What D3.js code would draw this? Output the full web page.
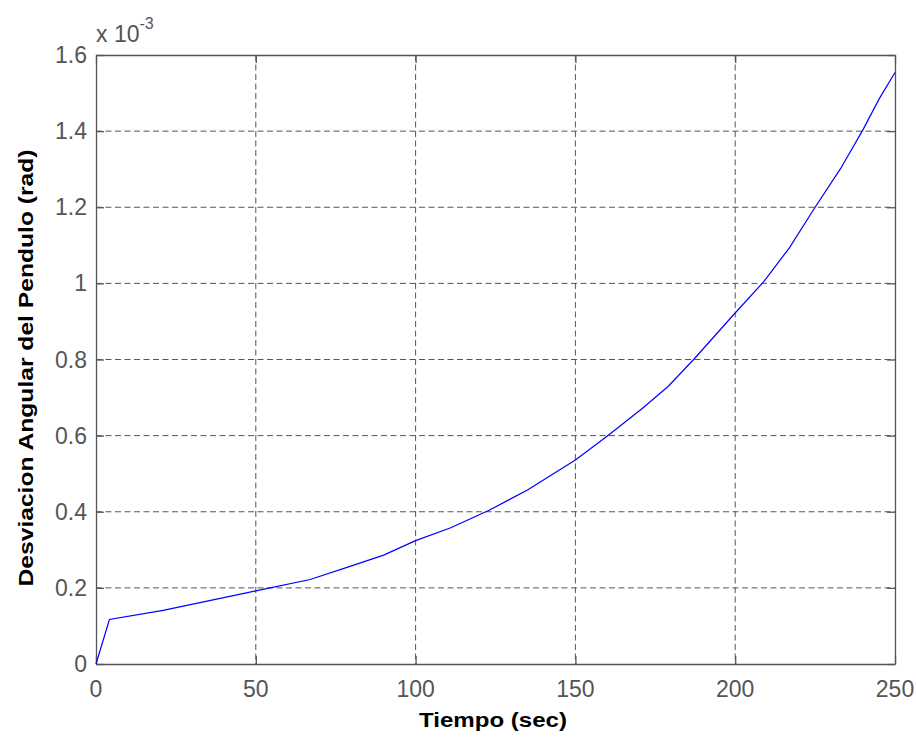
<!DOCTYPE html>
<html>
<head>
<meta charset="utf-8">
<script src="https://cdn.jsdelivr.net/npm/d3@7"></script>
<style>
	body { margin: 0; background: #fff; }
	svg { display: block; }
	.tick-label { font-family: "Liberation Sans", Arial, sans-serif; fill: #555; }
	.axis-title { font-family: "Liberation Sans", Arial, sans-serif; font-weight: bold; fill: #000; }
</style>
</head>
<body>
<svg id="chart" width="916" height="737"></svg>
<script>
// tiempo (sec) y desviacion (x 1e-3 rad)
var tiempo = [0, 4.2, 21, 50, 67, 79, 90, 100, 111, 123, 135, 150, 160, 171, 179, 187, 199, 209, 217, 225, 233, 240, 245, 250];
var desviacion = [0, 0.117, 0.141, 0.192, 0.222, 0.255, 0.286, 0.324, 0.358, 0.404, 0.457, 0.536, 0.599, 0.672, 0.729, 0.800, 0.913, 1.005, 1.094, 1.200, 1.302, 1.404, 1.484, 1.554];
var xTicks = [0, 50, 100, 150, 200, 250];
var yTicks = [0, 0.2, 0.4, 0.6, 0.8, 1, 1.2, 1.4, 1.6];

function drawChart() {
	var svg = d3.select('#chart');
	var left = 96, right = 895, top = 55, bottom = 664;
	var axisColor = '#555';

	var xScale = d3.scaleLinear().domain([0, 250]).range([left, right]);
	var yScale = d3.scaleLinear().domain([0, 1.6]).range([bottom, top]);

	// rejilla punteada
	var grid = svg.append('g').attr('id', 'grid');
	grid.selectAll('line.vx')
		.data(xTicks.slice(1, -1))
		.enter().append('line')
		.attr('x1', function (d) { return xScale(d); })
		.attr('x2', function (d) { return xScale(d); })
		.attr('y1', top).attr('y2', bottom)
		.style('stroke', axisColor).style('stroke-dasharray', '6,3.5');
	grid.selectAll('line.hy')
		.data(yTicks.slice(1, -1))
		.enter().append('line')
		.attr('x1', left).attr('x2', right)
		.attr('y1', function (d) { return yScale(d); })
		.attr('y2', function (d) { return yScale(d); })
		.style('stroke', axisColor).style('stroke-dasharray', '6,3.5');

	// ejes con marcas hacia dentro, en los cuatro lados
	var tickLen = 8;
	var xAxisB = d3.axisBottom(xScale).tickValues(xTicks).tickSizeInner(-tickLen).tickSizeOuter(0).tickFormat('');
	var xAxisT = d3.axisTop(xScale).tickValues(xTicks).tickSizeInner(-tickLen).tickSizeOuter(0).tickFormat('');
	var yAxisL = d3.axisLeft(yScale).tickValues(yTicks).tickSizeInner(-tickLen).tickSizeOuter(0).tickFormat('');
	var yAxisR = d3.axisRight(yScale).tickValues(yTicks).tickSizeInner(-tickLen).tickSizeOuter(0).tickFormat('');
	[
		[xAxisB, [0, bottom]], [xAxisT, [0, top]],
		[yAxisL, [left, 0]], [yAxisR, [right, 0]]
	].forEach(function (a) {
		var g = svg.append('g').attr('transform', 'translate(' + a[1] + ')').call(a[0]);
		g.selectAll('path, line').style('stroke', axisColor).style('stroke-width', 1.3);
	});

	// etiquetas de las marcas
	svg.append('g').selectAll('text')
		.data(xTicks)
		.enter().append('text')
		.attr('class', 'tick-label')
		.attr('x', function (d) { return xScale(d); })
		.attr('y', bottom + 33)
		.attr('text-anchor', 'middle')
		.style('font-size', '23px')
		.text(function (d) { return d; });
	svg.append('g').selectAll('text')
		.data(yTicks)
		.enter().append('text')
		.attr('class', 'tick-label')
		.attr('x', left - 9)
		.attr('y', function (d) { return yScale(d) + 8; })
		.attr('text-anchor', 'end')
		.style('font-size', '23px')
		.text(function (d) { return d; });

	// factor de escala
	var mult = svg.append('text').attr('class', 'tick-label')
		.attr('x', left).attr('y', 42).style('font-size', '23px');
	mult.append('tspan').text('x 10');
	mult.append('tspan').attr('dy', -13).style('font-size', '16px').text('-3');

	// curva
	var line = d3.line()
		.x(function (d, i) { return xScale(tiempo[i]); })
		.y(function (d) { return yScale(d); });
	svg.append('path')
		.datum(desviacion)
		.attr('d', line)
		.style('fill', 'none')
		.style('stroke', '#0000ff')
		.style('stroke-width', 1.2);

	// titulos de ejes
	svg.append('text').attr('class', 'axis-title')
		.attr('x', 493).attr('y', 727)
		.attr('text-anchor', 'middle')
		.attr('textLength', 148).attr('lengthAdjust', 'spacingAndGlyphs')
		.style('font-size', '20px')
		.text('Tiempo (sec)');
	svg.append('text').attr('class', 'axis-title')
		.attr('transform', 'translate(33,368) rotate(-90)')
		.attr('text-anchor', 'middle')
		.attr('textLength', 437).attr('lengthAdjust', 'spacingAndGlyphs')
		.style('font-size', '20px')
		.text('Desviacion Angular del Pendulo (rad)');
}

drawChart();
</script>
</body>
</html>
